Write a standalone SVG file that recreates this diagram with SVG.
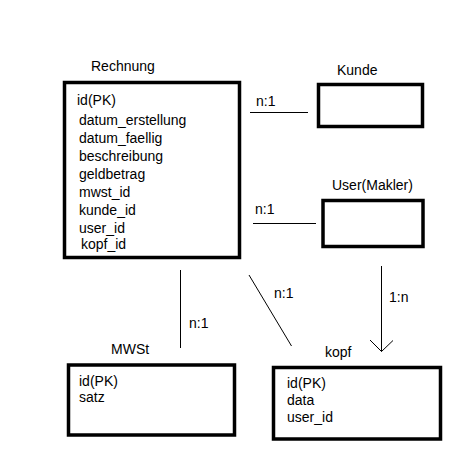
<svg xmlns="http://www.w3.org/2000/svg" width="466" height="476" viewBox="0 0 466 476">
<style>
text{font-family:"Liberation Sans",Arial,sans-serif;font-size:14px;fill:#000}
.box{fill:#fff;stroke:#000;stroke-width:3.5}
.ln{stroke:#000;stroke-width:1;fill:none}
</style>
<rect width="466" height="476" fill="#fff"/>
<g id="connectors">
<line class="ln" x1="250" y1="112.5" x2="308" y2="112.5"/>
<text x="256" y="106">n:1</text>
<line class="ln" x1="253" y1="223.5" x2="316" y2="223.5"/>
<text x="255" y="214">n:1</text>
<line class="ln" x1="180.5" y1="270" x2="180.5" y2="348"/>
<text x="189" y="328">n:1</text>
<line class="ln" x1="249" y1="275" x2="291.5" y2="346"/>
<text x="274" y="298">n:1</text>
<line class="ln" x1="381.5" y1="266" x2="381.5" y2="351.5"/>
<polyline class="ln" points="370,340 381.5,351.5 393,340.5"/>
<text x="389" y="302">1:n</text>
</g>
<g id="rechnung">
<text x="91" y="71">Rechnung</text>
<rect class="box" x="64.5" y="82.5" width="175" height="175"/>
<text x="77" y="105">id(PK)</text>
<text x="79" y="125">datum_erstellung</text>
<text x="79" y="143">datum_faellig</text>
<text x="79" y="161">beschreibung</text>
<text x="79" y="179">geldbetrag</text>
<text x="79" y="197">mwst_id</text>
<text x="79" y="215">kunde_id</text>
<text x="79" y="233">user_id</text>
<text x="81" y="249">kopf_id</text>
</g>
<g id="kunde">
<text x="337" y="75">Kunde</text>
<rect class="box" x="318.5" y="84.5" width="104" height="42"/>
</g>
<g id="user">
<text x="332" y="190">User(Makler)</text>
<rect class="box" x="323" y="200.5" width="100" height="46"/>
</g>
<g id="mwst">
<text x="111" y="354">MWSt</text>
<rect class="box" x="68.5" y="365" width="166" height="70"/>
<text x="79" y="386">id(PK)</text>
<text x="79" y="402">satz</text>
</g>
<g id="kopf">
<text x="325" y="357">kopf</text>
<rect class="box" x="273.5" y="367.5" width="167" height="71.5"/>
<text x="287" y="388">id(PK)</text>
<text x="287" y="405">data</text>
<text x="287" y="422">user_id</text>
</g>
</svg>
